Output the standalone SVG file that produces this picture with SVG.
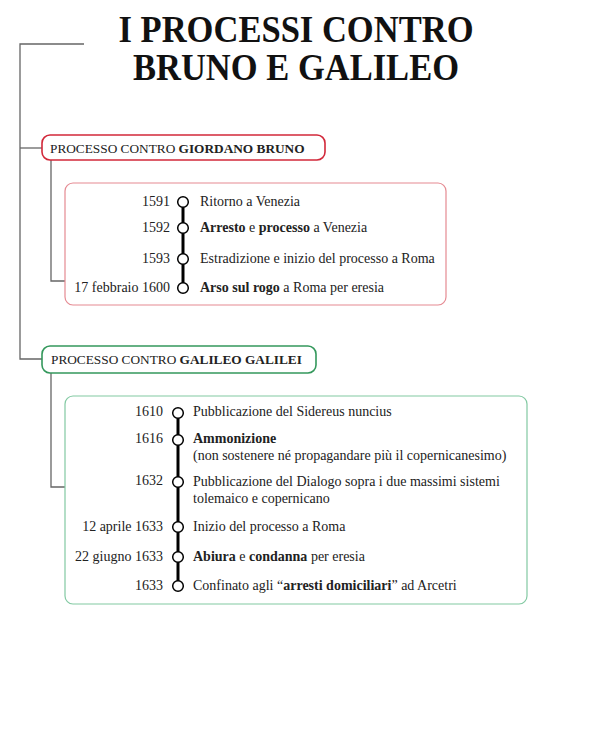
<svg xmlns="http://www.w3.org/2000/svg" width="591" height="730" viewBox="0 0 591 730">
<style>
.title{font-family:"Liberation Serif",serif;font-weight:bold;font-size:37px;fill:#111}
.t{font-family:"Liberation Serif",serif;font-size:14px;fill:#222}
.h{font-family:"Liberation Serif",serif;font-size:13.3px;fill:#222}
.yr{font-family:"Liberation Serif",serif;font-size:14px;fill:#222;text-anchor:end}
.b{font-weight:bold}
.conn{fill:none;stroke:#666;stroke-width:1.3}
.spine{stroke:#000;stroke-width:3}
.dot{fill:#fff;stroke:#000;stroke-width:1.5}
.hr{fill:#fff;stroke:#d2283a;stroke-width:1.6}
.br{fill:#fff;stroke:#e58a92;stroke-width:1.2}
.hg{fill:#fff;stroke:#34985c;stroke-width:1.6}
.bg{fill:#fff;stroke:#82c9a2;stroke-width:1.2}
</style>
<rect width="591" height="730" fill="#fff"/>
<g id="title">
<text class="title" x="296" y="42" text-anchor="middle" textLength="355" lengthAdjust="spacingAndGlyphs">I PROCESSI CONTRO</text>
<text class="title" x="296" y="80" text-anchor="middle" textLength="326" lengthAdjust="spacingAndGlyphs">BRUNO E GALILEO</text>
</g>
<g id="connectors">
<path class="conn" d="M84 44 H20 V359 H42"/>
<path class="conn" d="M20 148 H42"/>
<path class="conn" d="M51 160 V281 H65"/>
<path class="conn" d="M51 373 V487 H65"/>
</g>
<g id="bruno-header">
<rect class="hr" x="42" y="135" width="283" height="25" rx="8"/>
<text class="h" x="50" y="152.5">PROCESSO CONTRO <tspan class="b">GIORDANO BRUNO</tspan></text>
</g>
<g id="bruno-timeline">
<rect class="br" x="65" y="183" width="381" height="122" rx="8"/>
<line class="spine" x1="183" y1="202" x2="183" y2="288"/>
<circle class="dot" cx="183" cy="202" r="5.3"/>
<circle class="dot" cx="183" cy="228" r="5.3"/>
<circle class="dot" cx="183" cy="259" r="5.3"/>
<circle class="dot" cx="183" cy="288" r="5.3"/>
<text class="yr" x="170" y="206">1591</text>
<text class="yr" x="170" y="232">1592</text>
<text class="yr" x="170" y="263">1593</text>
<text class="yr" x="170" y="292">17 febbraio 1600</text>
<text class="t" x="200" y="206">Ritorno a Venezia</text>
<text class="t" x="200" y="232"><tspan class="b">Arresto</tspan> e <tspan class="b">processo</tspan> a Venezia</text>
<text class="t" x="200" y="263">Estradizione e inizio del processo a Roma</text>
<text class="t" x="200" y="292"><tspan class="b">Arso sul rogo</tspan> a Roma per eresia</text>
</g>
<g id="galileo-header">
<rect class="hg" x="42" y="346" width="274" height="27" rx="8"/>
<text class="h" x="51" y="364">PROCESSO CONTRO <tspan class="b">GALILEO GALILEI</tspan></text>
</g>
<g id="galileo-timeline">
<rect class="bg" x="65" y="396" width="462" height="208" rx="8"/>
<line class="spine" x1="178" y1="413" x2="178" y2="586"/>
<circle class="dot" cx="178" cy="413" r="5.3"/>
<circle class="dot" cx="178" cy="440" r="5.3"/>
<circle class="dot" cx="178" cy="482" r="5.3"/>
<circle class="dot" cx="178" cy="527" r="5.3"/>
<circle class="dot" cx="178" cy="557" r="5.3"/>
<circle class="dot" cx="178" cy="586" r="5.3"/>
<text class="yr" x="163" y="416">1610</text>
<text class="yr" x="163" y="443">1616</text>
<text class="yr" x="163" y="485">1632</text>
<text class="yr" x="163" y="531">12 aprile 1633</text>
<text class="yr" x="163" y="561">22 giugno 1633</text>
<text class="yr" x="163" y="590">1633</text>
<text class="t" x="193" y="416">Pubblicazione del Sidereus nuncius</text>
<text class="t" x="193" y="443"><tspan class="b">Ammonizione</tspan></text>
<text class="t" x="193" y="460">(non sostenere né propagandare più il copernicanesimo)</text>
<text class="t" x="193" y="486">Pubblicazione del Dialogo sopra i due massimi sistemi</text>
<text class="t" x="193" y="503">tolemaico e copernicano</text>
<text class="t" x="193" y="531">Inizio del processo a Roma</text>
<text class="t" x="193" y="561"><tspan class="b">Abiura</tspan> e <tspan class="b">condanna</tspan> per eresia</text>
<text class="t" x="193" y="590">Confinato agli “<tspan class="b">arresti domiciliari</tspan>” ad Arcetri</text>
</g>
</svg>
